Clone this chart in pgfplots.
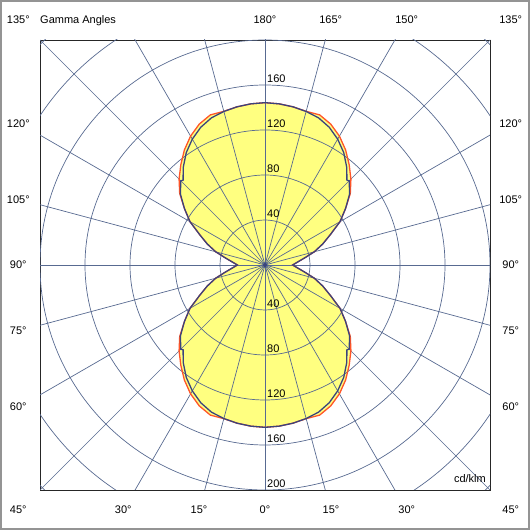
\documentclass[border=0pt]{standalone}
\usepackage{fontspec}
\setmainfont{Liberation Sans}
\usepackage{pgfplots}
\usepackage{pgfplotstable}
\pgfplotsset{compat=1.18}
\definecolor{gridc}{RGB}{88,106,145}
\definecolor{fillc}{RGB}{255,255,128}
\definecolor{redc}{RGB}{255,85,40}
\definecolor{bluec}{RGB}{58,68,125}

% gamma (deg), intensity (cd/klm)
\pgfplotstableread{
g I
0 144.3
5 143.8
10 142.8
15 141.4
20 142.0
25 138.2
30 132.3
35 124.9
40 116.4
45 108.0
50 99.0
55 87.4
60 77.0
65 64.2
70 54.6
75 45.4
80 35.6
85 28.9
90 24.6
95 28.9
100 35.6
105 45.4
110 54.6
115 64.2
120 77.0
125 87.4
130 99.0
135 108.0
140 116.4
145 124.9
150 132.3
155 138.2
160 142.0
165 141.4
170 142.8
175 143.8
180 144.3
}\redplane

\pgfplotstableread{
g I
0 144.3
5 143.8
10 142.8
15 141.3
20 139.2
25 135.1
30 129.2
35 122.0
40 113.1
44 104.8
45 105.8
50 98.2
55 87.4
60 77.0
65 64.2
70 54.6
75 45.4
80 35.6
85 28.9
90 24.6
95 28.9
100 35.6
105 45.4
110 54.6
115 64.2
120 77.0
125 87.4
130 98.2
135 105.8
136 104.8
140 113.1
145 122.0
150 129.2
155 135.1
160 139.2
165 141.3
170 142.8
175 143.8
180 144.3
}\blueplane

\begin{document}
\begin{tikzpicture}[font=\fontsize{11bp}{13bp}\selectfont]
\draw[line width=2bp, draw=black!42] (1bp,1bp) rectangle (529bp,529bp);
\begin{axis}[
  at={(40bp,40bp)}, anchor=south west,
  width=450bp, height=450bp, scale only axis,
  xmin=-200, xmax=200, ymin=-200, ymax=200,
  xtick=\empty, ytick=\empty,
  axis line style={draw=black!85, line width=0.8bp},
]
% yellow fill
\addplot[draw=none, fill=fillc, mark=none] table[x expr=\thisrow{I}*sin(\thisrow{g}), y expr=-\thisrow{I}*cos(\thisrow{g})]{\redplane};
\addplot[draw=none, fill=fillc, mark=none] table[x expr=-\thisrow{I}*sin(\thisrow{g}), y expr=-\thisrow{I}*cos(\thisrow{g})]{\redplane};
% polar grid
\pgfplotsinvokeforeach{40,80,120,160,200,240,280}{
  \draw[gridc, line width=0.7bp] (axis cs:0,0) circle[radius=#1];
}
\pgfplotsinvokeforeach{0,15,30,45,60,75,90,105,120,135,150,165}{
  \draw[gridc, line width=0.7bp] (axis cs:{-400*sin(#1)},{-400*cos(#1)}) -- (axis cs:{400*sin(#1)},{400*cos(#1)});
}
% curves
\addplot[redc, line width=1.3bp, mark=none] table[x expr=\thisrow{I}*sin(\thisrow{g}), y expr=-\thisrow{I}*cos(\thisrow{g})]{\redplane};
\addplot[redc, line width=1.3bp, mark=none] table[x expr=-\thisrow{I}*sin(\thisrow{g}), y expr=-\thisrow{I}*cos(\thisrow{g})]{\redplane};
\addplot[bluec, line width=1.3bp, mark=none] table[x expr=\thisrow{I}*sin(\thisrow{g}), y expr=-\thisrow{I}*cos(\thisrow{g})]{\blueplane};
\addplot[bluec, line width=1.3bp, mark=none] table[x expr=-\thisrow{I}*sin(\thisrow{g}), y expr=-\thisrow{I}*cos(\thisrow{g})]{\blueplane};
\addplot[only marks, mark=diamond*, mark size=2.5bp, color=bluec] coordinates {(0,0)};
% radial value labels
\pgfplotsinvokeforeach{40,80,120,160}{
  \node[anchor=south west, inner sep=2bp] at (axis cs:0,#1) {#1};
}
\pgfplotsinvokeforeach{40,80,120,160,200}{
  \node[anchor=south west, inner sep=2bp] at (axis cs:0,-#1) {#1};
}
\node[anchor=base east, inner sep=0pt, xshift=-4bp, yshift=7bp] at (axis cs:200,-200) {cd/klm};
\end{axis}
% gamma angle labels
\begin{scope}[every node/.style={anchor=base, inner sep=0pt}]
\node at (18.3bp,506.7bp) {135°};
\node[anchor=base west] at (40bp,506.7bp) {Gamma Angles};
\node at (265bp,506.7bp) {180°};
\node at (330.7bp,506.7bp) {165°};
\node at (406.7bp,506.7bp) {150°};
\node at (510.7bp,506.7bp) {135°};
\node at (18.3bp,16.7bp) {45°};
\node at (123.3bp,16.7bp) {30°};
\node at (199bp,16.7bp) {15°};
\node at (265bp,16.7bp) {0°};
\node at (331bp,16.7bp) {15°};
\node at (406.7bp,16.7bp) {30°};
\node at (510.7bp,16.7bp) {45°};
% left side
\node at (18.3bp,402.5bp) {120°};
\node at (18.3bp,326.6bp) {105°};
\node at (18.3bp,261bp) {90°};
\node at (18.3bp,195.4bp) {75°};
\node at (18.3bp,119.5bp) {60°};
% right side
\node at (510.7bp,402.5bp) {120°};
\node at (510.7bp,326.6bp) {105°};
\node at (510.7bp,261bp) {90°};
\node at (510.7bp,195.4bp) {75°};
\node at (510.7bp,119.5bp) {60°};
\end{scope}
\end{tikzpicture}
\end{document}
